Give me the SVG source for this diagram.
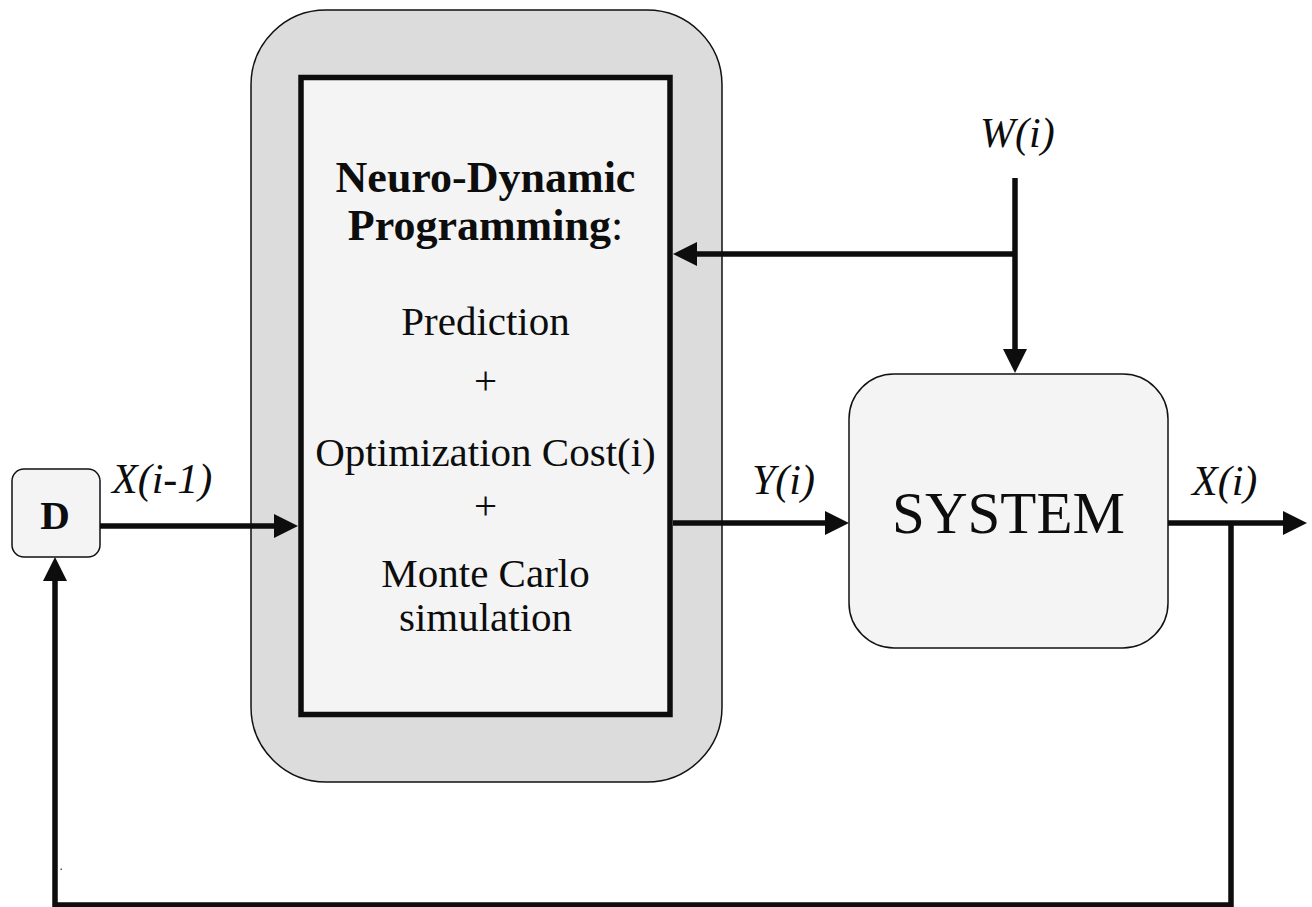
<svg xmlns="http://www.w3.org/2000/svg" width="1312" height="907" viewBox="0 0 1312 907">
<style>
.conn{fill:none;stroke:#0d0d0d;stroke-width:5.5;stroke-linejoin:miter}
.lbl{font-family:"Liberation Serif","Times New Roman",serif;fill:#0d0d0d}
.it{font-style:italic;font-size:42px}
.body{font-size:41px;text-anchor:middle}
.bold{font-weight:bold}
</style>
<defs>
<marker id="ah" markerUnits="userSpaceOnUse" markerWidth="24" markerHeight="24" refX="12" refY="12" orient="auto" viewBox="0 0 24 24">
<path d="M0,0 L24,12 L0,24 z" fill="#0d0d0d"/>
</marker>
</defs>
<rect width="1312" height="907" fill="#ffffff"/>

<g id="ndp">
<rect x="251" y="10" width="471" height="772" rx="75" ry="75" fill="#dcdcdc" stroke="#111" stroke-width="1.5"/>
<rect x="301" y="77.5" width="369" height="637" fill="#f4f4f4" stroke="#0d0d0d" stroke-width="5.5"/>
<text class="lbl bold" x="485.5" y="192" font-size="44" text-anchor="middle">Neuro-Dynamic</text>
<text class="lbl" x="485.5" y="240" font-size="44" text-anchor="middle"><tspan font-weight="bold">Programming</tspan>:</text>
<text class="lbl body" x="485.5" y="335">Prediction</text>
<text class="lbl body" x="485.5" y="394">+</text>
<text class="lbl body" x="485.5" y="466">Optimization Cost(i)</text>
<text class="lbl body" x="485.5" y="519">+</text>
<text class="lbl body" x="485.5" y="587">Monte Carlo</text>
<text class="lbl body" x="485.5" y="631">simulation</text>
</g>

<g id="delay">
<rect x="12" y="469" width="88" height="88" rx="12" ry="12" fill="#f4f4f4" stroke="#111" stroke-width="1.5"/>
<text class="lbl bold" x="55" y="529" font-size="41" text-anchor="middle">D</text>
</g>

<g id="system">
<rect x="849" y="374" width="319" height="274" rx="45" ry="45" fill="#f4f4f4" stroke="#111" stroke-width="1.5"/>
<text class="lbl" x="1008.5" y="533" font-size="59" text-anchor="middle">SYSTEM</text>
</g>

<g id="connectors">
<path class="conn" d="M100,526 H286" marker-end="url(#ah)"/>
<path class="conn" d="M673,523 H837" marker-end="url(#ah)"/>
<path class="conn" d="M1168,523 H1295" marker-end="url(#ah)"/>
<path class="conn" d="M1231,523 V905 H55 V569" marker-end="url(#ah)"/>
<path class="conn" d="M1015,178 V361" marker-end="url(#ah)"/>
<path class="conn" d="M1015,254 H685" marker-end="url(#ah)"/>
</g>

<g id="labels">
<text class="lbl it" x="112" y="493">X(i-1)</text>
<text class="lbl it" x="752" y="494">Y(i)</text>
<text class="lbl it" x="1192" y="495">X(i)</text>
<text class="lbl it" x="980" y="147" font-size="41">W(i)</text>
</g>
<rect x="60.5" y="868.5" width="1.5" height="1.5" fill="#555"/>
</svg>
